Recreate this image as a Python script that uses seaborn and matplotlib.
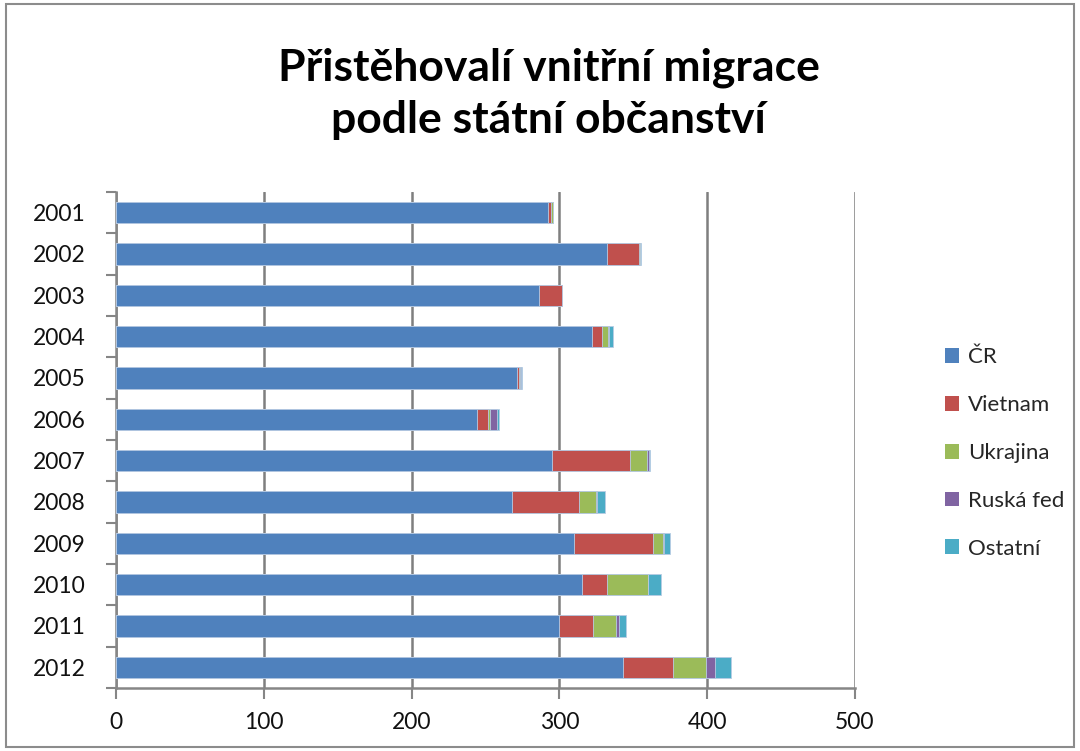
import numpy as np
import pandas as pd
import matplotlib
matplotlib.use("Agg")
import matplotlib.pyplot as plt
import seaborn as sns
from matplotlib.patches import Rectangle

# Immigrants by citizenship, per year
years = ["2001", "2002", "2003", "2004", "2005", "2006",
         "2007", "2008", "2009", "2010", "2011", "2012"]
cr = [292, 332, 286, 322, 271, 244, 295, 268, 310, 315, 300, 343]
vietnam = [2, 22, 16, 7, 2, 8, 53, 45, 53, 17, 23, 34]
ukrajina = [2, 0.5, 0, 4, 0.5, 1, 11, 12, 7, 28, 15, 22]
ruska_fed = [0, 0, 0, 0.5, 0.5, 4.5, 1.5, 0.5, 0.5, 0, 2, 6]
ostatni = [0, 1, 0, 3, 1, 1.5, 1, 5.5, 4, 9, 5, 11]

series_names = ["ČR", "Vietnam", "Ukrajina", "Ruská fed", "Ostatní"]
series_values = [cr, vietnam, ukrajina, ruska_fed, ostatni]
colors = ["#4F81BD", "#C0504D", "#9BBB59", "#8064A2", "#4BACC6"]
x_ticks = [0, 100, 200, 300, 400, 500]

title = "Přistěhovalí vnitřní migrace\npodle státní občanství"

sns.set_theme(style="white")
plt.rcParams["font.family"] = ["Lato", "DejaVu Sans"]

df = pd.DataFrame({name: vals for name, vals in zip(series_names, series_values)})
df["rok"] = years
cum = df[series_names].cumsum(axis=1)

fig = plt.figure(figsize=(10.8, 7.51), dpi=100)
ax = fig.add_axes([116 / 1080, 1 - 688 / 751, (855 - 116) / 1080, (688 - 192) / 751])

# Stacked bars: draw cumulative totals from the outermost layer inwards
for name, color in reversed(list(zip(series_names, colors))):
    sns.barplot(x=cum[name], y=df["rok"], orient="h", color=color,
                width=0.52, edgecolor="#B8CCE4", linewidth=0.6,
                saturation=1, ax=ax, zorder=3)

ax.set_xlim(0, 500)
ax.set_xticks(x_ticks)
ax.set_xticklabels([str(t) for t in x_ticks], fontsize=16.5, color="#111111")
ax.tick_params(axis="x", which="major", length=8, width=1.5, color="#868686",
               direction="out", pad=9, bottom=True)
ax.tick_params(axis="y", which="major", length=0, pad=22, labelsize=16.5,
               labelcolor="#111111")
ax.set_yticks(range(len(years)), minor=False)
ax.set_yticks(np.arange(-0.5, len(years), 1.0), minor=True)
ax.tick_params(axis="y", which="minor", length=7, width=1.5, color="#868686",
               direction="out", left=True)
ax.set_xlabel("")
ax.set_ylabel("")

ax.grid(axis="x", color="#7F7F7F", linewidth=1.8, zorder=0)
ax.grid(axis="y", visible=False)
for side in ["top", "right"]:
    ax.spines[side].set_visible(False)
for side in ["left", "bottom"]:
    ax.spines[side].set_color("#868686")
    ax.spines[side].set_linewidth(1.8)

fig.text(0.508, 1 - 94 / 751, title, ha="center", va="center",
         fontsize=32, fontweight="bold", color="#000000", linespacing=1.35)

handles = [Rectangle((0, 0), 1, 1, facecolor=c, edgecolor="none") for c in colors]
fig.legend(handles, series_names, loc="center left",
           bbox_to_anchor=(925 / 1080, 1 - 453 / 751), frameon=False,
           fontsize=16, handlelength=0.65, handleheight=0.65, handletextpad=0.4,
           labelspacing=1.25)

# Chart area border
fig.patches.append(Rectangle((6 / 1080, 4 / 751), 1 - 12 / 1080, 1 - 8 / 751,
                             transform=fig.transFigure, fill=False,
                             edgecolor="#8C8C8C", linewidth=1.5))

fig.savefig("out.png", dpi=100)
